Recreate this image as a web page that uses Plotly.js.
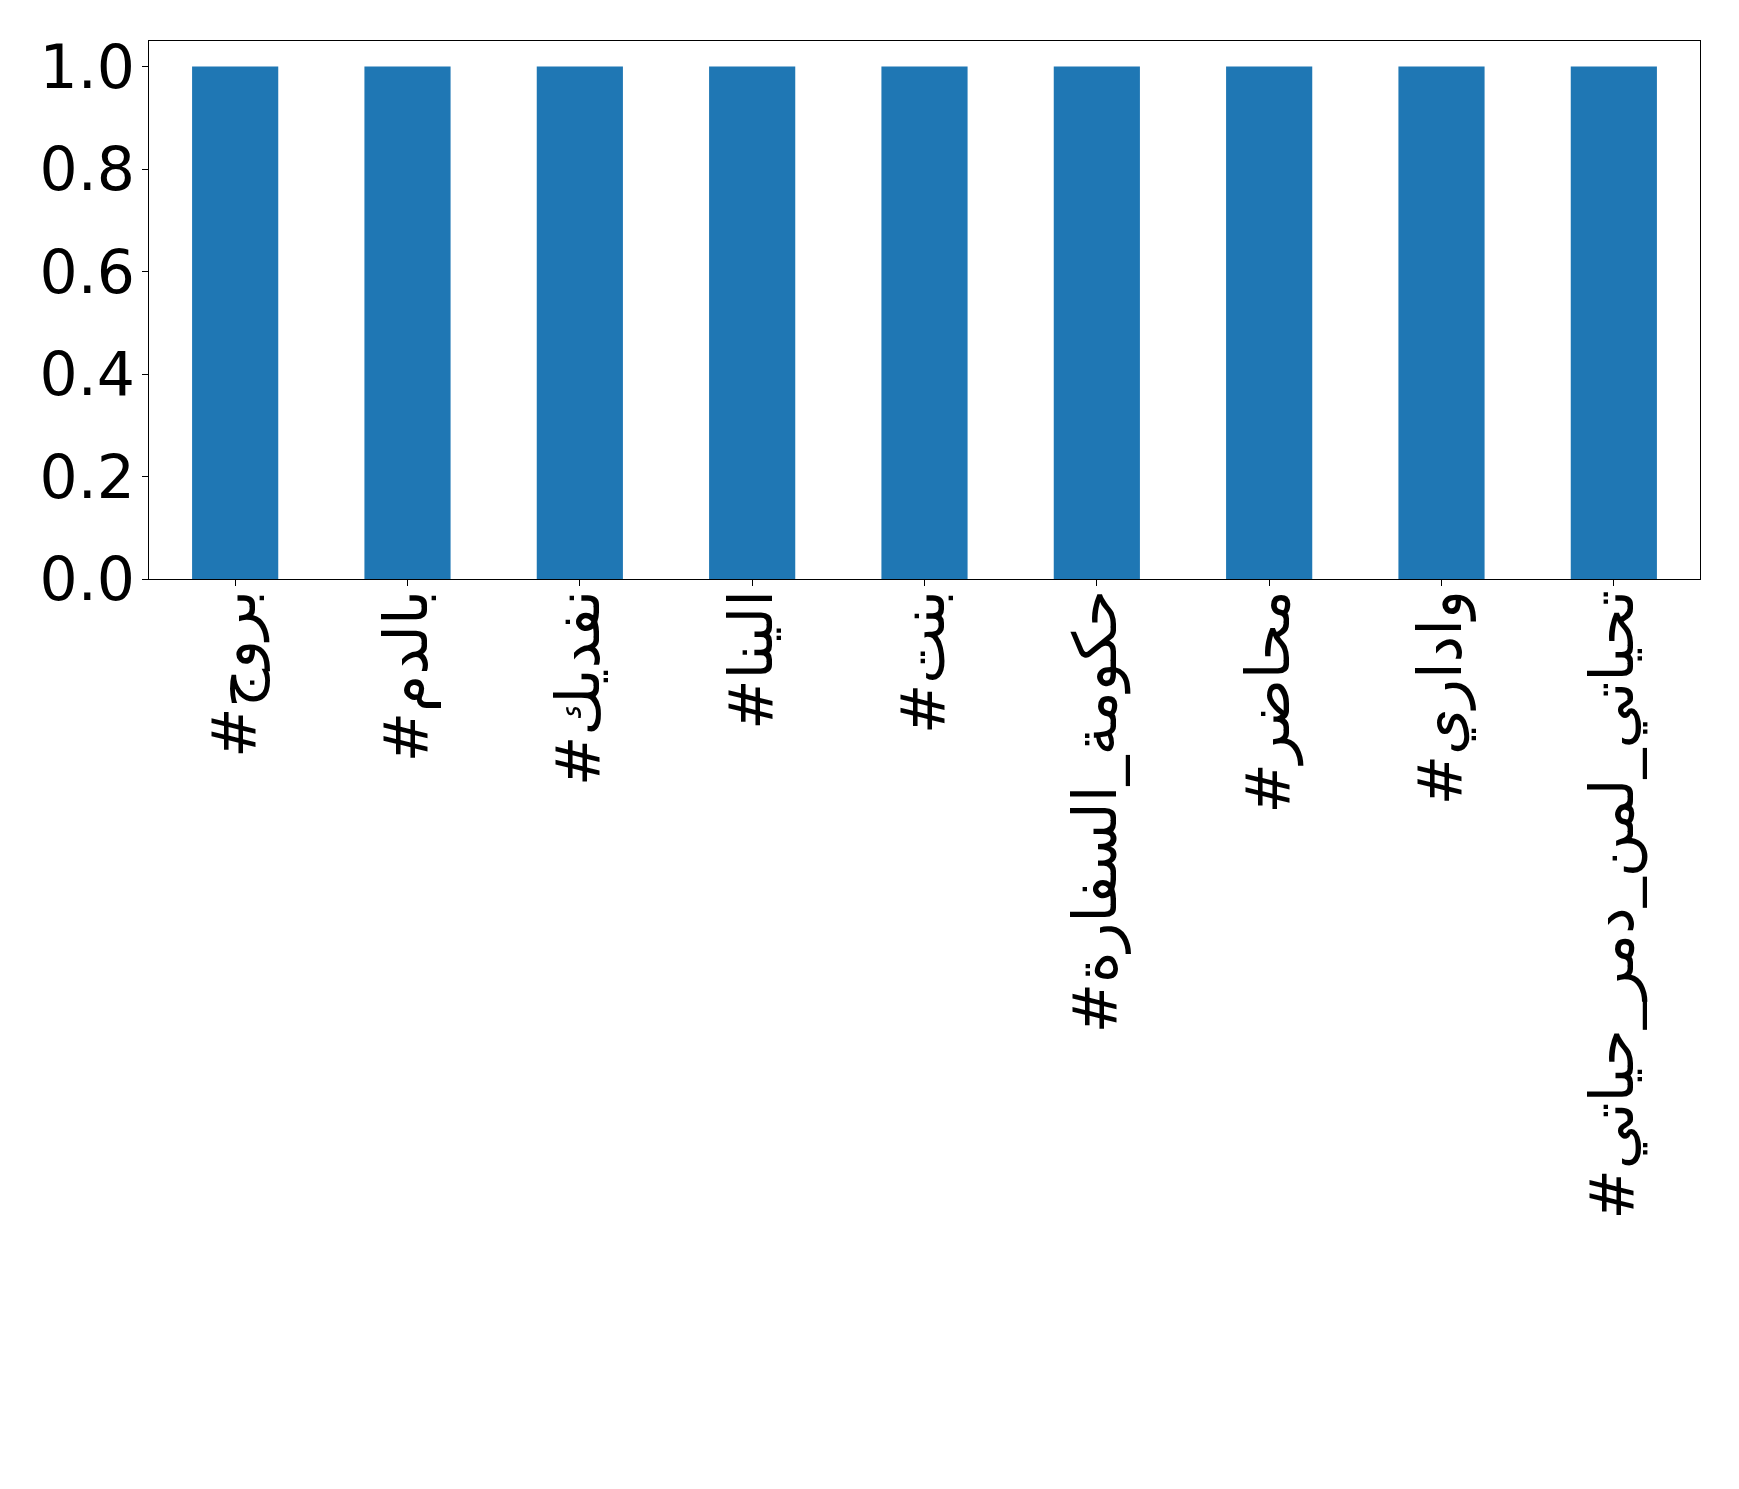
<!DOCTYPE html>
<html>
<head>
<meta charset="utf-8">
<script src="https://cdn.plot.ly/plotly-3.0.1.min.js"></script>
<style>
  html, body { margin: 0; padding: 0; background: #ffffff; }
  #chart { width: 1739px; height: 1489px; }
</style>
</head>
<body>
<div id="chart"></div>
<script>
const categories = [
  "#بروج",
  "#بالدم",
  "#نفديك",
  "#الينا",
  "#بنت",
  "#حكومة_السفارة",
  "#محاضر",
  "#واداري",
  "#تحياتي_لمن_دمر_حياتي"
];
const values = [1, 1, 1, 1, 1, 1, 1, 1, 1];
const yTickValues = [0, 0.2, 0.4, 0.6, 0.8, 1.0];

const trace = {
  type: "bar",
  x: categories,
  y: values,
  width: 0.5,
  marker: { color: "#1f77b4", line: { width: 0 } },
  hoverinfo: "x+y"
};

const axisFont = { family: "DejaVu Sans, Noto Sans, sans-serif", size: 60, color: "#000000" };

const layout = {
  width: 1739,
  height: 1489,
  margin: { l: 149, r: 39, t: 41, b: 910, pad: 0 },
  paper_bgcolor: "#ffffff",
  plot_bgcolor: "#ffffff",
  showlegend: false,
  bargap: 0.5,
  xaxis: {
    type: "category",
    range: [-0.5, categories.length - 0.5],
    tickangle: -90,
    tickfont: axisFont,
    ticks: "outside",
    ticklen: 6,
    tickwidth: 1,
    tickcolor: "#000000",
    ticklabelstandoff: -20,
    showline: true,
    linecolor: "#000000",
    linewidth: 1,
    mirror: true,
    showgrid: false,
    zeroline: false,
    automargin: false
  },
  yaxis: {
    range: [0, 1.05],
    tickvals: yTickValues,
    tickformat: ".1f",
    tickfont: axisFont,
    ticks: "outside",
    ticklen: 6,
    tickwidth: 1,
    tickcolor: "#000000",
    ticklabelstandoff: -5,
    showline: true,
    linecolor: "#000000",
    linewidth: 1,
    mirror: true,
    showgrid: false,
    zeroline: false,
    automargin: false
  }
};

Plotly.newPlot("chart", [trace], layout, { staticPlot: true, displayModeBar: false });
</script>
</body>
</html>
